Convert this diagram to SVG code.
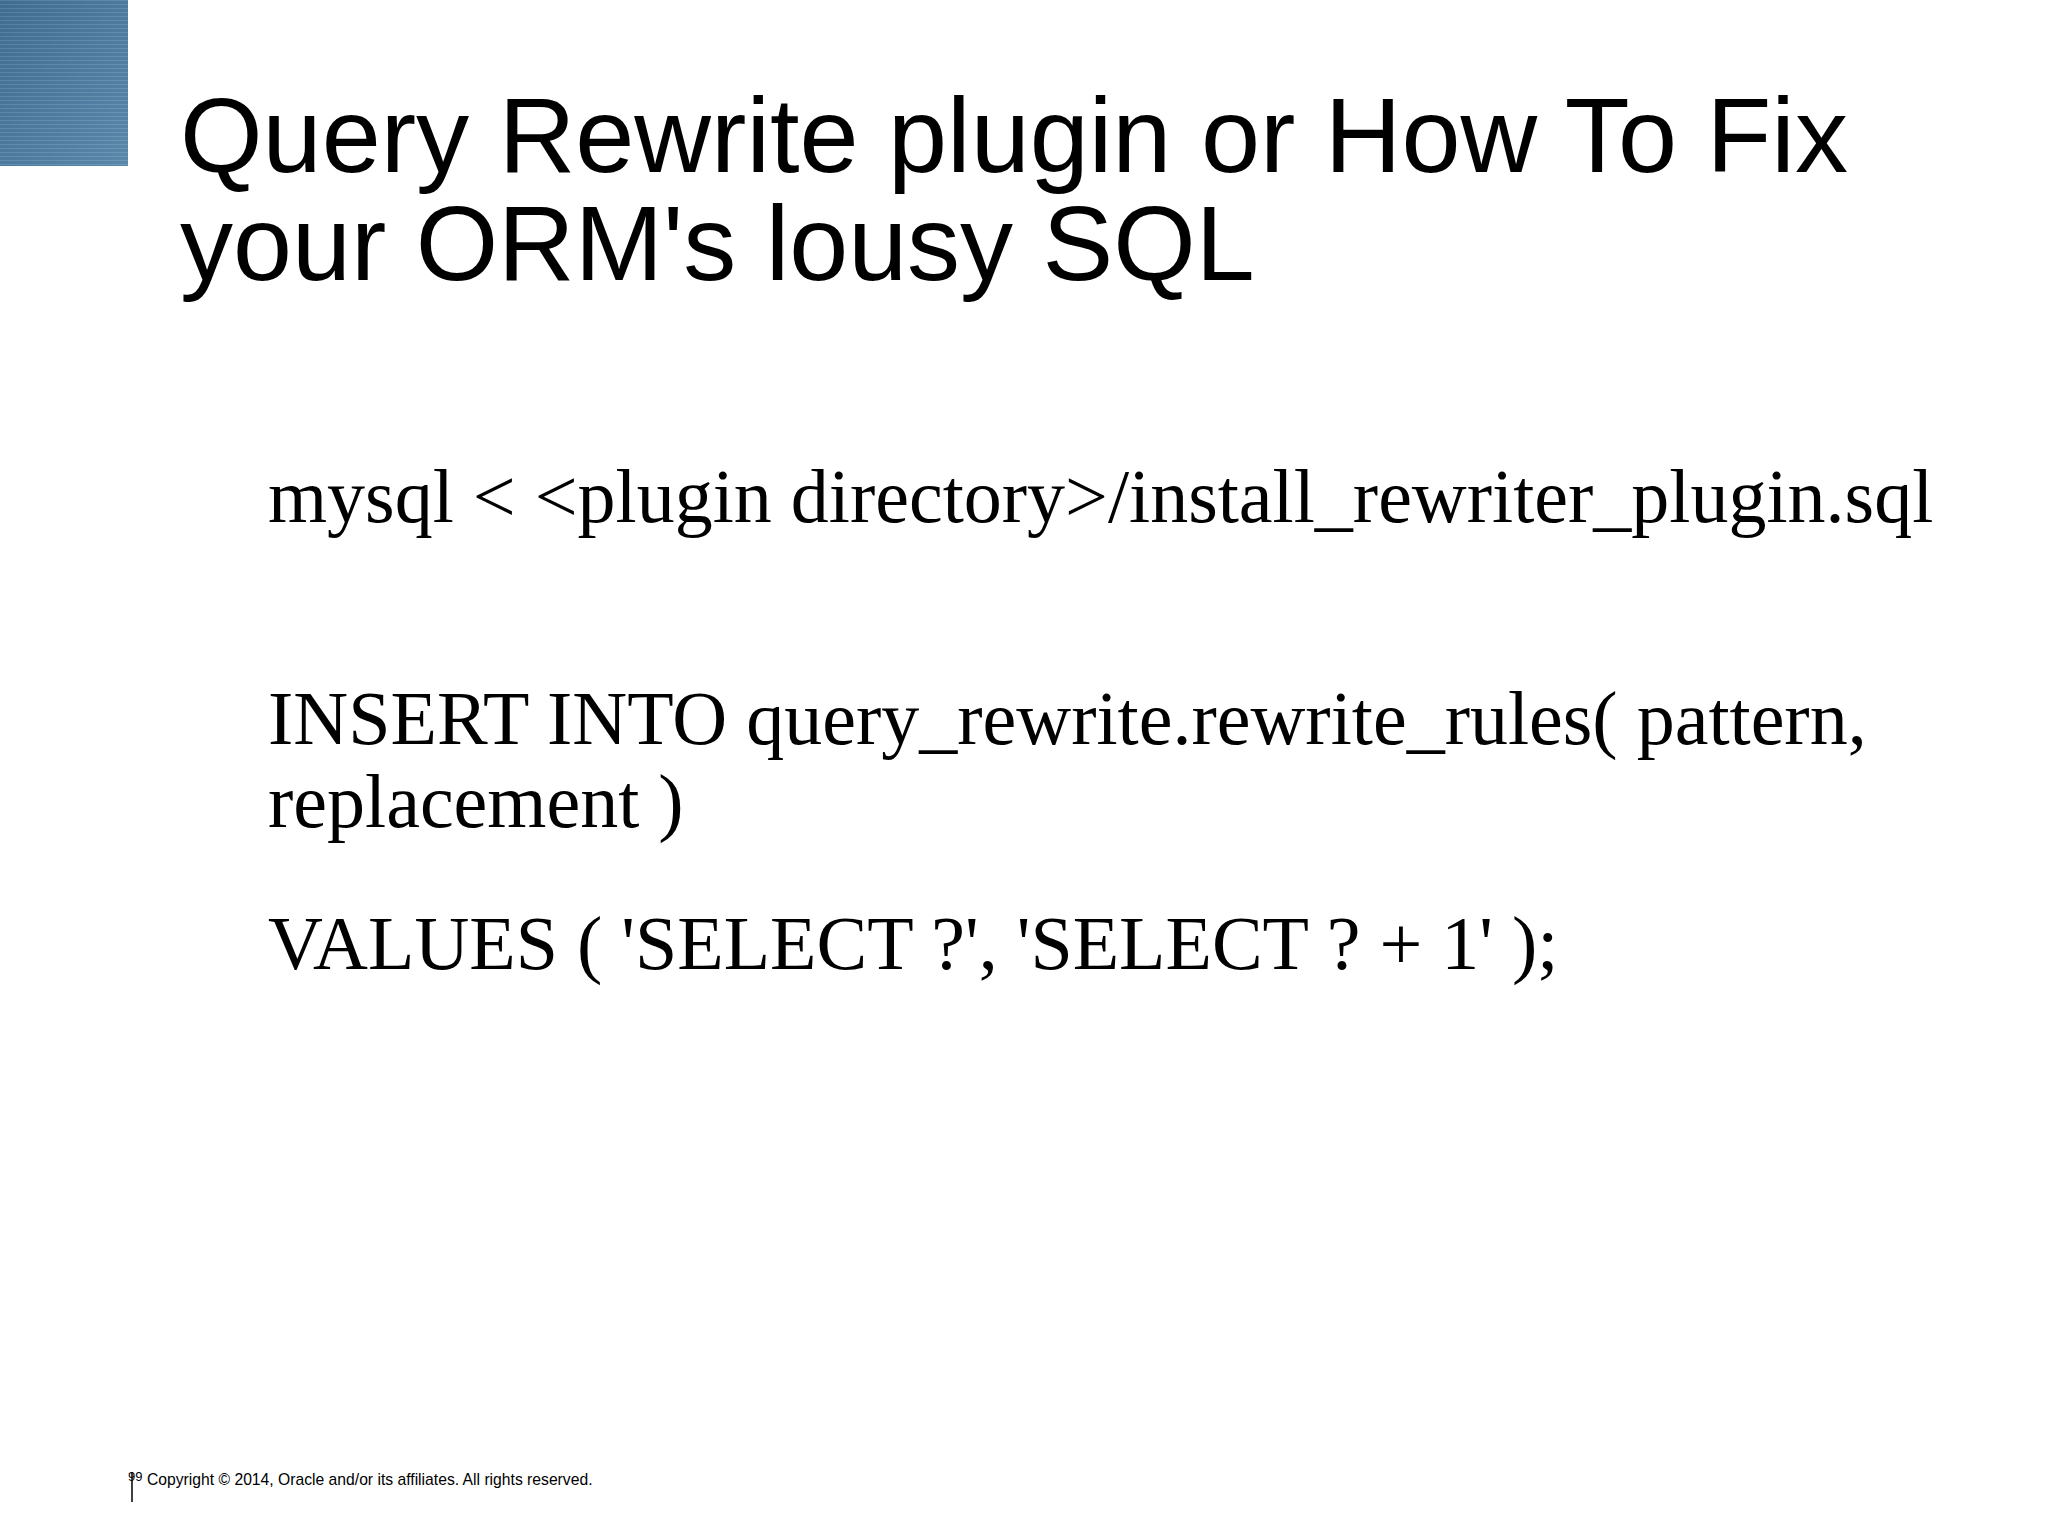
<svg xmlns="http://www.w3.org/2000/svg" width="2048" height="1535" viewBox="0 0 2048 1535">
<defs>
<linearGradient id="g" x1="0" y1="0" x2="1" y2="1"><stop offset="0" stop-color="#3f6d92"/><stop offset="1" stop-color="#5a88ab"/></linearGradient>
<pattern id="stripes" width="8" height="4" patternUnits="userSpaceOnUse"><rect width="8" height="1" fill="#ffffff" opacity="0.12"/></pattern>
</defs>
<style>
.t{font-family:"Liberation Sans",Arial,sans-serif;font-size:106px;fill:#000}
.b{font-family:"Liberation Serif","Times New Roman",serif;font-size:76px;fill:#000}
.f{font-family:"Liberation Sans",Arial,sans-serif;font-size:15.7px;fill:#000}
</style>
<rect width="2048" height="1535" fill="#fff"/>
<g id="corner"><rect x="0" y="0" width="128" height="166" fill="url(#g)"/><rect x="0" y="0" width="128" height="166" fill="url(#stripes)"/></g>
<g id="title">
<text class="t" x="180" y="172" textLength="1668" lengthAdjust="spacingAndGlyphs">Query Rewrite plugin or How To Fix</text>
<text class="t" x="180" y="280">your ORM's lousy SQL</text>
</g>
<g id="body">
<text class="b" x="268" y="522">mysql &lt; &lt;plugin directory&gt;/install_rewriter_plugin.sql</text>
<text class="b" x="268" y="744">INSERT INTO query_rewrite.rewrite_rules( pattern,</text>
<text class="b" x="268" y="827">replacement )</text>
<text class="b" x="268" y="969">VALUES ( 'SELECT ?', 'SELECT ? + 1' );</text>
</g>
<g id="footer">
<line x1="132" y1="1472" x2="132" y2="1502" stroke="#000" stroke-width="1.5"/>
<text class="f" x="128" y="1481" style="font-size:13px">99</text>
<text class="f" x="147" y="1485">Copyright © 2014, Oracle and/or its affiliates. All rights reserved.</text>
</g>
</svg>
